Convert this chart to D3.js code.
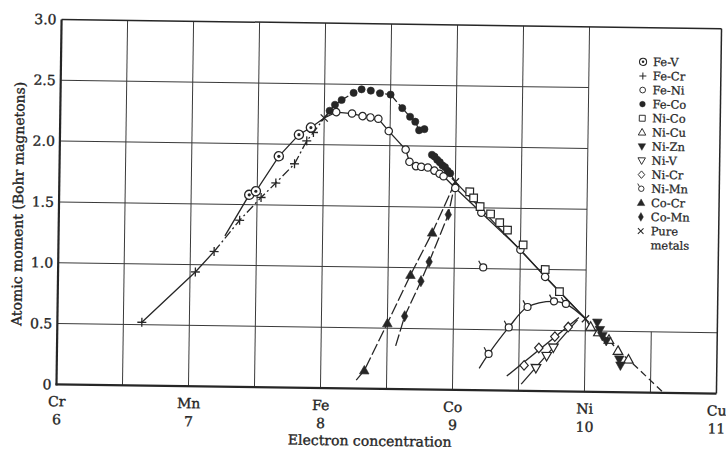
<!DOCTYPE html>
<html><head><meta charset="utf-8">
<script src="https://cdn.jsdelivr.net/npm/d3@7"></script>
<style>body{margin:0;background:#fff}svg{display:block}</style>
</head><body>
<svg id="c" width="726" height="453"></svg>
<script>
// ---------- DATA ----------
const xTickValues   = [6, 7, 8, 9, 10, 11];
const xTickElements = ["Cr", "Mn", "Fe", "Co", "Ni", "Cu"];
const xTickNumbers  = ["6", "7", "8", "9", "10", "11"];
const yTickValues   = [0, 0.5, 1, 1.5, 2, 2.5, 3];
const yTickLabels   = ["0", "0.5", "1.0", "1.5", "2.0", "2.5", "3.0"];

// pure metals: Fe, Co, Ni
const pureMetals = [[8, 2.22], [9, 1.71], [10, 0.60]];

const feV = [[7.44,1.58],[7.49,1.61],[7.66,1.90],[7.81,2.08],[7.90,2.14]];
const feVLineStart = [7.26, 1.24];

const feCr = [[6.64,0.52],[7.04,0.94],[7.18,1.11],[7.37,1.37],[7.53,1.56],[7.64,1.68],[7.78,1.84],[7.87,2.03],[7.92,2.10]];

const feNi = [[8.09,2.27],[8.21,2.26],[8.29,2.24],[8.35,2.23],[8.41,2.22],[8.49,2.12],[8.62,1.97],[8.65,1.87],
              [8.70,1.835],[8.74,1.83],[8.79,1.825],[8.84,1.80],[8.88,1.775],[8.91,1.755],[9.0,1.66],
              [9.20,1.46],[9.50,1.16],[9.69,0.94]];

const feCoHigh = [[8.04,2.28],[8.08,2.33],[8.13,2.37],[8.22,2.43],[8.28,2.46],[8.35,2.45],[8.42,2.43],[8.50,2.42],
                  [8.59,2.31],[8.65,2.24],[8.69,2.20],[8.72,2.13],[8.76,2.14]];
const feCoLow  = [[8.82,1.93],[8.84,1.915],[8.86,1.89],[8.88,1.87],[8.90,1.845],[8.92,1.83],[8.94,1.80],[8.96,1.78]];

const niCo = [[9.11,1.63],[9.14,1.58],[9.19,1.51],[9.27,1.45],[9.34,1.38],[9.40,1.32],[9.52,1.20],[9.69,1.00],[9.80,0.82]];

const niCu = [[10.04,0.535],[10.10,0.49],[10.18,0.43],[10.25,0.34],[10.33,0.27]];
const niCuLineEnd = [10.6, 0];

const niZn = [[10.09,0.57],[10.11,0.51],[10.13,0.46],[10.16,0.42],[10.26,0.27],[10.27,0.22]];

const niV = [[9.63,0.19],[9.71,0.29],[9.76,0.36]];
const niVLine = [[9.52,0.055],[9.94,0.59]];

const niCr = [[9.54,0.21],[9.65,0.355],[9.77,0.45],[9.87,0.53]];
const niCrLine = [[9.41,0.12],[9.95,0.61]];

const niMnSingle = [[9.22,1.01]];
const niMn = [[9.27,0.30],[9.42,0.52],[9.56,0.69],[9.76,0.74],[9.85,0.72]];
const niMnLineStart = [9.20, 0.18];

const coCr = [[8.33,0.15],[8.50,0.54],[8.67,0.94],[8.83,1.29]];
const coCrLineStart = [8.27, 0.07];

const coMn = [[8.63,0.60],[8.75,0.89],[8.81,1.05],[8.95,1.44]];
const coMnLineStart = [8.565, 0.355];

const legendNames   = ["Fe-V","Fe-Cr","Fe-Ni","Fe-Co","Ni-Co","Ni-Cu","Ni-Zn","Ni-V","Ni-Cr","Ni-Mn","Co-Cr","Co-Mn","Pure"];
const legendMarkers = ["circleDot","plus","circle","dot","square","triUp","triDownFill","triDown","diamond","circleTail","triUpFill","diamondFill","cross"];

// ---------- DRAW ----------
const INK = "#262626";
const SERIF = "'DejaVu Serif', 'Liberation Serif', serif";
const svg = d3.select("#c");
const g = svg.append("g").attr("transform", "rotate(0.8, 388, 207)");

const x = d3.scaleLinear().domain([6, 11]).range([59, 719]);
const y = d3.scaleLinear().domain([0, 3]).range([389, 24]);

function styleText(sel, size) {
  return sel.attr("font-family", SERIF).attr("font-size", size).attr("fill", INK)
    .attr("stroke", INK).attr("stroke-width", 0.35);
}

// grid
const grid = g.append("g").attr("stroke", "#3a3a3a").attr("stroke-width", 1);
[6.5,7,7.5,8,8.5,9,9.5,10].forEach(v => grid.append("line")
  .attr("x1", x(v)).attr("x2", x(v)).attr("y1", y(0)).attr("y2", y(3)));
grid.append("line").attr("x1", x(10.5)).attr("x2", x(10.5)).attr("y1", y(0)).attr("y2", y(0.5));
grid.append("line").attr("x1", x(6)).attr("x2", x(11)).attr("y1", y(0.5)).attr("y2", y(0.5));
[1,1.5,2,2.5].forEach(v => grid.append("line")
  .attr("x1", x(6)).attr("x2", x(10)).attr("y1", y(v)).attr("y2", y(v)));

// frame
g.append("line").attr("x1", x(6)).attr("x2", x(11)).attr("y1", y(3)).attr("y2", y(3)).attr("stroke", INK).attr("stroke-width", 1.5);
g.append("line").attr("x1", x(11)).attr("x2", x(11)).attr("y1", y(0)).attr("y2", y(3)).attr("stroke", INK).attr("stroke-width", 1.5);
g.append("line").attr("x1", x(6)).attr("x2", x(6)).attr("y1", y(0)+1).attr("y2", y(3)).attr("stroke", INK).attr("stroke-width", 2.2);
g.append("line").attr("x1", x(6)-1).attr("x2", x(11)).attr("y1", y(0)).attr("y2", y(0)).attr("stroke", INK).attr("stroke-width", 2.2);

// axes (labels)
const gx = g.append("g").attr("transform", `translate(0,${y(0)})`)
  .call(d3.axisBottom(x).tickValues(xTickValues).tickFormat((d,i)=>xTickElements[i]).tickSize(0).tickPadding(12));
gx.select(".domain").remove();
gx.selectAll(".tick").append("text").attr("y", 40).text((d,i)=>xTickNumbers[i]);
styleText(gx.selectAll("text"), 14);

const gy = g.append("g").attr("transform", `translate(${x(6)},0)`)
  .call(d3.axisLeft(y).tickValues(yTickValues).tickFormat((d,i)=>yTickLabels[i]).tickSize(0).tickPadding(5));
gy.select(".domain").remove();
styleText(gy.selectAll("text"), 14);

styleText(g.append("text").attr("transform", "translate(23,209) rotate(-90)").attr("text-anchor", "middle"), 14)
  .text("Atomic moment (Bohr magnetons)");
styleText(g.append("text").attr("x", 373).attr("y", 446).attr("text-anchor", "middle"), 14)
  .text("Electron concentration");

// lines
const lineGen = d3.line().x(d => x(d[0])).y(d => y(d[1]));
const curveGen = d3.line().x(d => x(d[0])).y(d => y(d[1])).curve(d3.curveCatmullRom.alpha(0.5));
const L = g.append("g").attr("fill", "none").attr("stroke", INK).attr("stroke-width", 1.3);
function path(data, dash, gen) {
  const p = L.append("path").attr("d", (gen || lineGen)(data));
  if (dash) p.attr("stroke-dasharray", dash);
  return p;
}
const [FE, CO, NI] = pureMetals;
path([feVLineStart, ...feV, FE]);
path([feCr[0], feCr[1], feCr[2]]);
path([feCr[2], ...feCr.slice(3), FE], "9,3,2,3");
path([FE, ...feNi, NI]);
path([FE, ...feCoHigh], "6,3");
path([...feCoLow, CO]);
path([CO, NI]);
path([NI, ...niCu, niCuLineEnd], "7,4");
path(niVLine);
path(niCrLine);
path([niMnLineStart, ...niMn, NI], null, curveGen);
path([coCrLineStart, ...coCr, CO], "12,3");
path([coMnLineStart, ...coMn, CO], "12,3");

// markers
function marker(parent, type, cx, cy, k) {
  const m = parent.append("g").attr("transform", `translate(${cx},${cy}) scale(${k})`);
  const open = s => s.attr("fill", "#fff").attr("stroke", INK).attr("stroke-width", 1.2);
  const fill = s => s.attr("fill", INK).attr("stroke", INK).attr("stroke-width", 0.6);
  switch (type) {
    case "circleDot":
      open(m.append("circle").attr("r", 4.6)).attr("stroke-width", 1.3);
      m.append("circle").attr("r", 1.6).attr("fill", INK); break;
    case "plus":
      m.append("path").attr("d", "M-4.5,0H4.5M0,-4.5V4.5").attr("stroke", INK).attr("stroke-width", 1.3); break;
    case "circle": open(m.append("circle").attr("r", 3.7)); break;
    case "dot": fill(m.append("circle").attr("r", 3.6)); break;
    case "square": open(m.append("rect").attr("x", -3.8).attr("y", -3.8).attr("width", 7.6).attr("height", 7.6)); break;
    case "triUp": open(m.append("path").attr("d", "M0,-5L4.8,3.5L-4.8,3.5Z")); break;
    case "triDownFill": fill(m.append("path").attr("d", "M0,5L4.8,-3.5L-4.8,-3.5Z")); break;
    case "triDown": open(m.append("path").attr("d", "M0,5L4.8,-3.5L-4.8,-3.5Z")); break;
    case "diamond": open(m.append("path").attr("d", "M0,-4.8L4.2,0L0,4.8L-4.2,0Z")); break;
    case "circleTail":
      m.append("path").attr("d", "M-2.4,-2.6L-4.6,-6.6").attr("stroke", INK).attr("stroke-width", 1.2);
      open(m.append("circle").attr("r", 3.5)); break;
    case "triUpFill": fill(m.append("path").attr("d", "M0,-5L4.8,3.5L-4.8,3.5Z")); break;
    case "diamondFill": fill(m.append("path").attr("d", "M0,-5.6L3.2,0L0,5.6L-3.2,0Z")); break;
    case "cross":
      m.append("path").attr("d", "M-3.6,-3.6L3.6,3.6M-3.6,3.6L3.6,-3.6").attr("stroke", INK).attr("stroke-width", 1.3); break;
  }
}
const M = g.append("g");
function marks(data, type) { data.forEach(d => marker(M, type, x(d[0]), y(d[1]), 1)); }
marks(feCr, "plus");
marks(feV, "circleDot");
marks(feNi, "circle");
marks(feCoHigh, "dot");
marks(feCoLow, "dot");
marks(niCo, "square");
marks(niMnSingle, "circleTail");
marks(niMn, "circleTail");
marks(niCr, "diamond");
marks(niV, "triDown");
marks(niCu, "triUp");
marks(niZn, "triDownFill");
marks(coCr, "triUpFill");
marks(coMn, "diamondFill");
marks(pureMetals, "cross");

// legend
const LG = g.append("g");
legendNames.forEach((name, i) => {
  const cy = 58.3 + i * 14.1;
  marker(LG, legendMarkers[i], 641, cy, 0.78);
  styleText(LG.append("text").attr("x", 651).attr("y", cy + 4), 11.5).attr("stroke-width", 0.25).text(name);
});
styleText(LG.append("text").attr("x", 651).attr("y", 58.3 + 13 * 14.1 + 4), 11.5).attr("stroke-width", 0.25).text("metals");
</script>
</body></html>
